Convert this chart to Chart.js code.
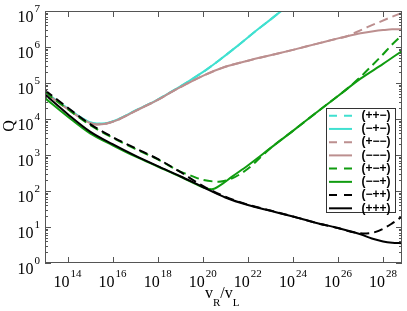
<!DOCTYPE html>
<html>
<head>
<meta charset="utf-8">
<script src="https://cdn.jsdelivr.net/npm/chart.js@4"></script>
<style>
  html, body { margin: 0; padding: 0; background: #fff; }
  canvas { display: block; }
</style>
</head>
<body>
<canvas id="chart" width="407" height="311"></canvas>
<script>
// ---- Data (log10 of vR/vL and log10 of Q) ---------------------------------
const labels = ["(++\u2212)", "(\u2212+\u2212)", "(+\u2212\u2212)", "(\u2212\u2212\u2212)",
                "(+\u2212+)", "(\u2212\u2212+)", "(\u2212++)", "(+++)"];

const cyanX = [13, 13.5, 14, 14.5, 15, 15.3, 15.7, 16.2, 17, 18, 18.5, 19.3, 20, 20.7, 21.5, 22.2, 23, 23.5, 24];
const cyanY = [4.76, 4.52, 4.30, 4.08, 3.91, 3.87, 3.88, 3.98, 4.23, 4.54, 4.72, 5.02, 5.30, 5.62, 6.01, 6.37, 6.76, 7.01, 7.26];

const rosyX = [13, 13.5, 14, 14.5, 15, 15.3, 15.7, 16.2, 17, 18, 18.5, 19.3, 20, 21, 22, 23, 24, 25, 26, 26.4, 27, 27.5, 28, 28.4, 28.84];
const rosyY = [4.74, 4.50, 4.28, 4.06, 3.89, 3.85, 3.87, 3.97, 4.22, 4.53, 4.71, 4.98, 5.20, 5.45, 5.62, 5.77, 5.92, 6.08, 6.24, 6.30, 6.38, 6.43, 6.47, 6.49, 6.49];

const rosyDashX = [13, 13.5, 14, 14.5, 15, 15.3, 15.7, 16.2, 17, 18, 18.5, 19.3, 20, 21, 22, 23, 24, 25, 26, 26.4, 26.8, 27.3, 27.86, 28.4, 28.84];
const rosyDashY = [4.74, 4.50, 4.28, 4.06, 3.89, 3.85, 3.87, 3.97, 4.22, 4.53, 4.71, 4.98, 5.20, 5.45, 5.62, 5.77, 5.92, 6.08, 6.24, 6.30, 6.41, 6.55, 6.70, 6.84, 6.95];

const greenDashX = [13, 14, 15, 16, 17, 18, 19, 19.5, 20, 20.7, 21.3, 22, 22.6, 23, 24, 25, 26, 26.5, 27, 27.5, 28, 28.4, 28.84];
const greenDashY = [4.74, 4.28, 3.83, 3.48, 3.17, 2.88, 2.54, 2.42, 2.31, 2.26, 2.35, 2.62, 2.96, 3.19, 3.67, 4.16, 4.64, 4.89, 5.17, 5.48, 5.80, 6.07, 6.33];

const greenX = [13, 14, 15, 16, 17, 18, 19, 19.8, 20.1, 20.4, 20.8, 21.3, 22, 23, 24, 25, 26, 27, 28, 28.84];
const greenY = [4.58, 4.07, 3.60, 3.27, 2.96, 2.68, 2.40, 2.16, 2.08, 2.05, 2.17, 2.40, 2.71, 3.19, 3.67, 4.16, 4.64, 5.12, 5.53, 5.89];

const blackDashX = [13, 14, 15, 16, 17, 18, 19, 20, 21, 22, 23, 24, 25, 26, 26.5, 27.1, 27.6, 28, 28.4, 28.84];
const blackDashY = [4.80, 4.32, 3.86, 3.50, 3.19, 2.89, 2.53, 2.14, 1.84, 1.62, 1.46, 1.29, 1.12, 0.97, 0.88, 0.82, 0.85, 0.95, 1.10, 1.29];

const blackX = [13, 14, 15, 16, 17, 18, 19, 20, 21, 22, 23, 24, 25, 26, 27, 27.5, 28, 28.4, 28.84];
const blackY = [4.68, 4.14, 3.65, 3.30, 2.98, 2.69, 2.41, 2.11, 1.82, 1.61, 1.45, 1.29, 1.12, 0.97, 0.80, 0.68, 0.60, 0.565, 0.55];

const xTickExp = [14, 16, 18, 20, 22, 24, 26, 28];
const yTickExp = [0, 1, 2, 3, 4, 5, 6, 7];

// ---- Helpers ---------------------------------------------------------------
const pts = (xs, ys) => xs.map((x, i) => ({ x: Math.pow(10, x), y: Math.pow(10, ys[i]) }));

const CYAN = "#40e0d0";
const ROSY = "#bc8f8f";
const GREEN = "#109c10";
const BLACK = "#000000";
const DASH = [9, 5];

const series = [
    { data: pts(cyanX, cyanY), color: CYAN, dash: DASH },
    { data: pts(cyanX, cyanY), color: CYAN, dash: [] },
    { data: pts(rosyDashX, rosyDashY), color: ROSY, dash: DASH },
    { data: pts(rosyX, rosyY), color: ROSY, dash: [] },
    { data: pts(greenDashX, greenDashY), color: GREEN, dash: DASH },
    { data: pts(greenX, greenY), color: GREEN, dash: [] },
    { data: pts(blackDashX, blackDashY), color: BLACK, dash: DASH },
    { data: pts(blackX, blackY), color: BLACK, dash: [] },
];

// superscripted power of ten, e.g. 10^14
function drawPow(ctx, exp, x, y, align) {
    const base = "10", sup = String(exp);
    ctx.font = "16px 'Liberation Serif', serif";
    const wb = ctx.measureText(base).width;
    ctx.font = "11px 'Liberation Serif', serif";
    const ws = ctx.measureText(sup).width;
    let left = align === "center" ? x - (wb + 1 + ws) / 2 : x - wb - 1 - ws;
    ctx.textAlign = "left";
    ctx.textBaseline = "alphabetic";
    ctx.font = "16px 'Liberation Serif', serif";
    ctx.fillText(base, left, y);
    ctx.font = "11px 'Liberation Serif', serif";
    ctx.fillText(sup, left + wb + 1, y - 10.5);
}

// ---- Frame, ticks, labels, legend (drawn like the original axes) ---------
const framePlugin = {
    id: "frame",
    afterDatasetsDraw(chart) {
        const { ctx, chartArea: a, scales } = chart;
        const sx = scales.x, sy = scales.y;
        ctx.save();
        ctx.strokeStyle = "#555";
        ctx.lineWidth = 1;
        ctx.strokeRect(a.left + 0.5, a.top + 0.5, a.right - a.left - 1, a.bottom - a.top - 1);

        ctx.beginPath();
        xTickExp.forEach((e) => {
            const px = Math.round(sx.getPixelForValue(Math.pow(10, e))) + 0.5;
            ctx.moveTo(px, a.bottom); ctx.lineTo(px, a.bottom - 6);
            ctx.moveTo(px, a.top); ctx.lineTo(px, a.top + 6);
        });
        yTickExp.forEach((e) => {
            for (let k = 1; k <= 9; k++) {
                const v = k * Math.pow(10, e);
                if (v > 1e7) break;
                const py = Math.round(sy.getPixelForValue(v)) + 0.5;
                const len = k === 1 ? 6 : 3;
                ctx.moveTo(a.left, py); ctx.lineTo(a.left + len, py);
                ctx.moveTo(a.right, py); ctx.lineTo(a.right - len, py);
            }
        });
        ctx.stroke();

        ctx.fillStyle = "#000";
        xTickExp.forEach((e) => drawPow(ctx, e, sx.getPixelForValue(Math.pow(10, e)), 287, "center"));
        yTickExp.forEach((e) => drawPow(ctx, e, 40, sy.getPixelForValue(Math.pow(10, e)) + 11, "right"));

        // axis titles
        ctx.textAlign = "left";
        let tx = 205;
        const part = (t, size, dy) => {
            ctx.font = size + "px 'Liberation Serif', serif";
            ctx.fillText(t, tx, 298 + dy);
            tx += ctx.measureText(t).width;
        };
        part("v", 16, 0); part("R", 11, 8); part("/", 16, 0); part("v", 16, 0); part("L", 11, 8);

        ctx.save();
        ctx.translate(14, 126);
        ctx.rotate(-Math.PI / 2);
        ctx.font = "16px 'Liberation Serif', serif";
        ctx.textAlign = "center";
        ctx.fillText("Q", 0, 0);
        ctx.restore();

        // legend box
        ctx.fillStyle = "#fff";
        ctx.fillRect(326, 108, 70, 105);
        ctx.strokeStyle = "#333";
        ctx.strokeRect(326.5, 108.5, 69, 104);
        ctx.font = "bold 12px 'Liberation Sans', sans-serif";
        ctx.textBaseline = "middle";
        ctx.textAlign = "left";
        chart.data.datasets.forEach((ds, i) => {
            const ry = 115.7 + i * 13.23;
            ctx.strokeStyle = ds.borderColor;
            ctx.lineWidth = 2;
            ctx.setLineDash(ds.borderDash.length ? [8, 7] : []);
            ctx.beginPath();
            ctx.moveTo(329, ry); ctx.lineTo(352, ry);
            ctx.stroke();
            ctx.setLineDash([]);
            ctx.fillStyle = "#000";
            ctx.fillText(ds.label, 361.5, ry);
        });
        ctx.restore();
    },
};

new Chart(document.getElementById("chart"), {
    type: "line",
    data: {
        datasets: series.map((s, i) => ({
            label: labels[i],
            data: s.data,
            borderColor: s.color,
            borderDash: s.dash,
            borderWidth: 2,
            pointRadius: 0,
            fill: false,
            cubicInterpolationMode: "monotone",
            order: series.length - 1 - i,
        })),
    },
    options: {
        responsive: false,
        animation: false,
        devicePixelRatio: 1,
        layout: { padding: { left: 45, top: 11, right: 5, bottom: 48 } },
        plugins: { legend: { display: false }, tooltip: { enabled: false } },
        scales: {
            x: { type: "logarithmic", min: 1e13, max: 6.9e28, display: false },
            y: { type: "logarithmic", min: 1, max: 1e7, display: false },
        },
    },
    plugins: [framePlugin],
});
</script>
</body>
</html>
